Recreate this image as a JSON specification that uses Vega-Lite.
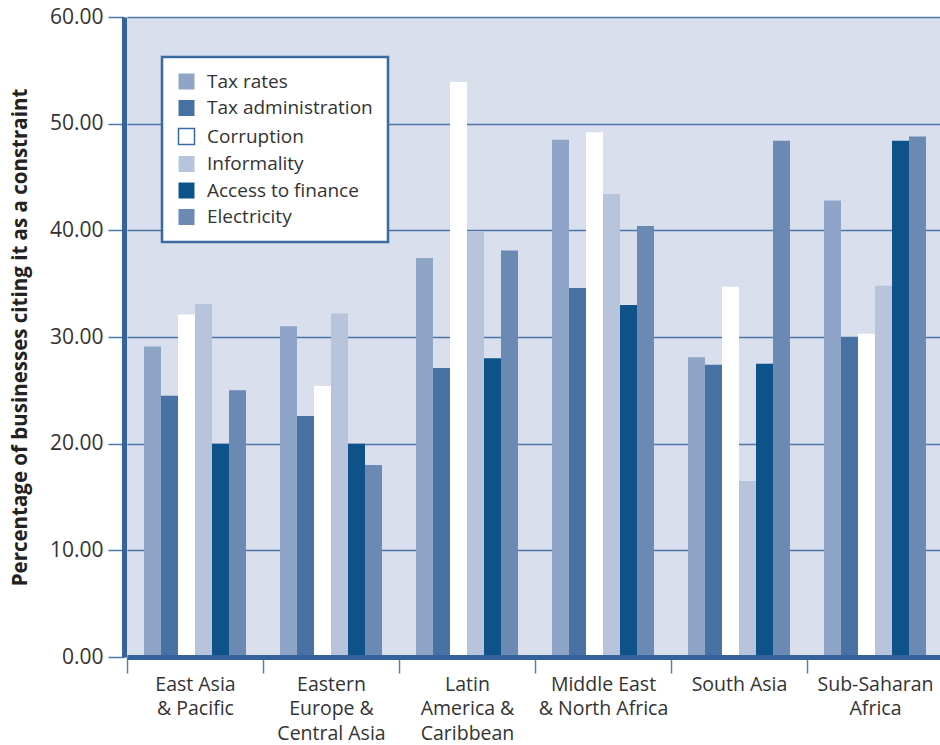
{
  "$schema": "https://vega.github.io/schema/vega-lite/v6.json",
  "width": 816,
  "height": 640,
  "autosize": {"type": "none"},
  "padding": {"left": 127, "top": 17, "right": 0, "bottom": 88},
  "background": "white",
  "data": {
    "values": [
      {"region": "East Asia & Pacific", "factor": "Tax rates", "value": 29.1},
      {"region": "East Asia & Pacific", "factor": "Tax administration", "value": 24.5},
      {"region": "East Asia & Pacific", "factor": "Corruption", "value": 32.1},
      {"region": "East Asia & Pacific", "factor": "Informality", "value": 33.1},
      {"region": "East Asia & Pacific", "factor": "Access to finance", "value": 20.0},
      {"region": "East Asia & Pacific", "factor": "Electricity", "value": 25.0},
      {"region": "Eastern Europe & Central Asia", "factor": "Tax rates", "value": 31.0},
      {"region": "Eastern Europe & Central Asia", "factor": "Tax administration", "value": 22.6},
      {"region": "Eastern Europe & Central Asia", "factor": "Corruption", "value": 25.4},
      {"region": "Eastern Europe & Central Asia", "factor": "Informality", "value": 32.2},
      {"region": "Eastern Europe & Central Asia", "factor": "Access to finance", "value": 20.0},
      {"region": "Eastern Europe & Central Asia", "factor": "Electricity", "value": 18.0},
      {"region": "Latin America & Caribbean", "factor": "Tax rates", "value": 37.4},
      {"region": "Latin America & Caribbean", "factor": "Tax administration", "value": 27.1},
      {"region": "Latin America & Caribbean", "factor": "Corruption", "value": 53.9},
      {"region": "Latin America & Caribbean", "factor": "Informality", "value": 39.9},
      {"region": "Latin America & Caribbean", "factor": "Access to finance", "value": 28.0},
      {"region": "Latin America & Caribbean", "factor": "Electricity", "value": 38.1},
      {"region": "Middle East & North Africa", "factor": "Tax rates", "value": 48.5},
      {"region": "Middle East & North Africa", "factor": "Tax administration", "value": 34.6},
      {"region": "Middle East & North Africa", "factor": "Corruption", "value": 49.2},
      {"region": "Middle East & North Africa", "factor": "Informality", "value": 43.4},
      {"region": "Middle East & North Africa", "factor": "Access to finance", "value": 33.0},
      {"region": "Middle East & North Africa", "factor": "Electricity", "value": 40.4},
      {"region": "South Asia", "factor": "Tax rates", "value": 28.1},
      {"region": "South Asia", "factor": "Tax administration", "value": 27.4},
      {"region": "South Asia", "factor": "Corruption", "value": 34.7},
      {"region": "South Asia", "factor": "Informality", "value": 16.5},
      {"region": "South Asia", "factor": "Access to finance", "value": 27.5},
      {"region": "South Asia", "factor": "Electricity", "value": 48.4},
      {"region": "Sub-Saharan Africa", "factor": "Tax rates", "value": 42.8},
      {"region": "Sub-Saharan Africa", "factor": "Tax administration", "value": 30.0},
      {"region": "Sub-Saharan Africa", "factor": "Corruption", "value": 30.3},
      {"region": "Sub-Saharan Africa", "factor": "Informality", "value": 34.8},
      {"region": "Sub-Saharan Africa", "factor": "Access to finance", "value": 48.4},
      {"region": "Sub-Saharan Africa", "factor": "Electricity", "value": 48.8}
    ]
  },
  "mark": {"type": "bar"},
  "encoding": {
    "x": {
      "field": "region",
      "type": "nominal",
      "sort": ["East Asia & Pacific", "Eastern Europe & Central Asia", "Latin America & Caribbean", "Middle East & North Africa", "South Asia", "Sub-Saharan Africa"],
      "scale": {"paddingInner": 0, "paddingOuter": 0},
      "axis": {
        "title": null,
        "zindex": 1,
        "labelAngle": 0,
        "tickBand": "extent",
        "tickSize": 16,
        "tickColor": "#5A80B0",
        "tickWidth": 1.5,
        "domainColor": "#33639A",
        "domainWidth": 5,
        "labelFont": "Open Sans",
        "labelFontSize": 19.5,
        "labelColor": "#333333",
        "labelPadding": 2,
        "labelLineHeight": 24.5,
        "labelBaseline": "top",
        "labelExpr": "datum.value == 'East Asia & Pacific' ? ['East Asia', '& Pacific'] : datum.value == 'Eastern Europe & Central Asia' ? ['Eastern', 'Europe &', 'Central Asia'] : datum.value == 'Latin America & Caribbean' ? ['Latin', 'America &', 'Caribbean'] : datum.value == 'Middle East & North Africa' ? ['Middle East', '& North Africa'] : datum.value == 'Sub-Saharan Africa' ? ['Sub-Saharan', 'Africa'] : datum.value"
      }
    },
    "xOffset": {
      "field": "factor",
      "type": "nominal",
      "sort": ["Tax rates", "Tax administration", "Corruption", "Informality", "Access to finance", "Electricity"],
      "scale": {"paddingInner": 0, "paddingOuter": 1.25}
    },
    "y": {
      "field": "value",
      "type": "quantitative",
      "scale": {"domain": [0, 60], "nice": false},
      "axis": {
        "title": "Percentage of businesses citing it as a constraint",
        "titleFont": "Open Sans",
        "titleFontSize": 20.5,
        "titleFontWeight": "bold",
        "titleColor": "#222222",
        "titlePadding": 19,
        "values": [0, 10, 20, 30, 40, 50, 60],
        "format": ".2f",
        "labelFont": "Open Sans",
        "labelFontSize": 21,
        "labelColor": "#333333",
        "labelPadding": 5,
        "offset": 3,
        "tickSize": 16,
        "tickColor": "#4F76A6",
        "tickWidth": 1.5,
        "domainColor": "#33639A",
        "domainWidth": 5,
        "grid": true,
        "gridColor": "#4F76A6",
        "gridWidth": 1.5
      }
    },
    "color": {
      "field": "factor",
      "type": "nominal",
      "sort": ["Tax rates", "Tax administration", "Corruption", "Informality", "Access to finance", "Electricity"],
      "scale": {
        "domain": ["Tax rates", "Tax administration", "Corruption", "Informality", "Access to finance", "Electricity"],
        "range": ["#8FA5C7", "#4872A3", "#FFFFFF", "#B8C4DC", "#0D5289", "#6A8AB3"]
      },
      "legend": {
        "title": null,
        "orient": "none",
        "legendX": 35,
        "legendY": 40,
        "fillColor": "white",
        "strokeColor": "#3A6A9F",
        "padding": 15,
        "symbolType": "square",
        "symbolSize": 256,
        "labelFont": "Open Sans",
        "labelFontSize": 19,
        "labelLimit": 400,
        "labelColor": "#333333",
        "labelOffset": 11,
        "rowPadding": 6.5,
        "symbolOpacity": 1,
        "encode": {
          "legend": {"update": {"strokeWidth": {"value": 2.5}}},
          "symbols": {"update": {"stroke": {"signal": "datum.value === 'Corruption' ? '#3A6A9F' : null"}, "strokeWidth": {"value": 1.5}}}
        }
      }
    }
  },
  "config": {
    "view": {"fill": "#D9DFEC", "stroke": null},
    "axis": {"gridOpacity": 1}
  }
}
